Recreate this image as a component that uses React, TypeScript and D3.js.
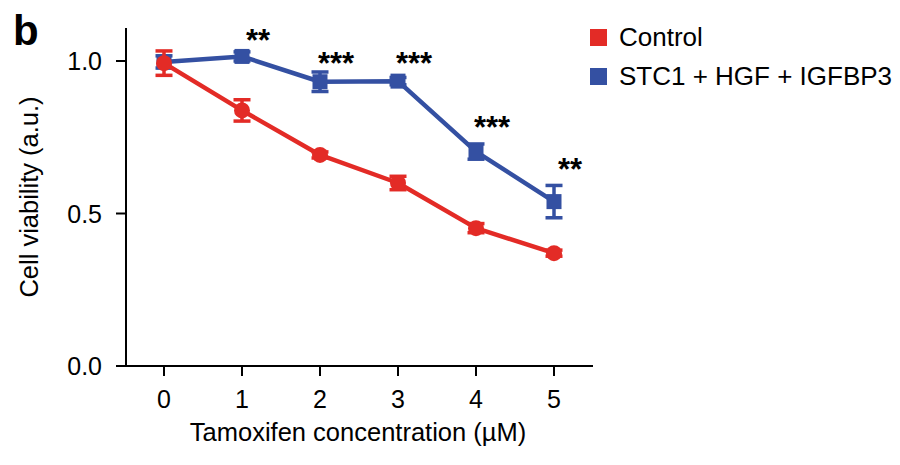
import React, { useEffect, useRef } from 'react';
import * as d3 from 'd3';

// tamoxifen concentrations (µM)
const doses = [0, 1, 2, 3, 4, 5];

const controlMean = [0.993, 0.838, 0.692, 0.6, 0.452, 0.37];
const controlErr = [0.04, 0.035, 0.01, 0.022, 0.015, 0.01];

const comboMean = [0.997, 1.015, 0.932, 0.934, 0.703, 0.539];
const comboErr = [0.02, 0.015, 0.032, 0.012, 0.025, 0.053];

// significance marks over the combo series and where they sit (data units, glyph bottom)
const stars = ['', '**', '***', '***', '***', '**'];
const starY = [0, 1.075, 1.001, 1.001, 0.79, 0.652];

const yTicks = [0, 0.5, 1.0];
const legendLabels = ['Control', 'STC1 + HGF + IGFBP3'];

const RED = '#e32b26';
const BLUE = '#3450a2';
const FONT = '"Liberation Sans", Arial, Helvetica, sans-serif';

export default function App() {
    const ref = useRef<SVGSVGElement>(null);

    useEffect(() => {
        const svg = d3.select(ref.current);
        svg.selectAll('*').remove();

        const x = d3.scaleLinear().domain([0, 5]).range([164, 554]);
        const y = d3.scaleLinear().domain([0, 1]).range([366, 61]);
        const left = 126, right = 593, bottom = 366, top = 28;

        // panel letter
        svg.append('text')
            .attr('x', 13).attr('y', 45)
            .attr('font-family', FONT).attr('font-weight', 'bold').attr('font-size', 42)
            .text('b');

        // axes
        const axes = svg.append('g').attr('stroke', '#000').attr('stroke-width', 2);
        axes.append('line').attr('x1', left).attr('x2', left).attr('y1', top).attr('y2', bottom + 1);
        axes.append('line').attr('x1', left - 1).attr('x2', right).attr('y1', bottom).attr('y2', bottom);
        axes.selectAll('.yt').data(yTicks).enter().append('line')
            .attr('x1', left - 10).attr('x2', left)
            .attr('y1', d => y(d)).attr('y2', d => y(d));
        axes.selectAll('.xt').data(doses).enter().append('line')
            .attr('x1', d => x(d)).attr('x2', d => x(d))
            .attr('y1', bottom).attr('y2', bottom + 10);

        svg.selectAll('.ylab').data(yTicks).enter().append('text')
            .attr('x', left - 24).attr('y', d => y(d)).attr('dy', '0.36em')
            .attr('text-anchor', 'end')
            .attr('font-family', FONT).attr('font-size', 25)
            .text(d => d3.format('.1f')(d));

        svg.selectAll('.xlab').data(doses).enter().append('text')
            .attr('x', d => x(d)).attr('y', 408)
            .attr('text-anchor', 'middle')
            .attr('font-family', FONT).attr('font-size', 25)
            .text(d => d);

        svg.append('text')
            .attr('x', 358).attr('y', 441)
            .attr('text-anchor', 'middle')
            .attr('font-family', FONT).attr('font-size', 25.5)
            .text('Tamoxifen concentration (\u00b5M)');

        svg.append('text')
            .attr('transform', 'translate(38,197) rotate(-90)')
            .attr('text-anchor', 'middle')
            .attr('font-family', FONT).attr('font-size', 25.5)
            .text('Cell viability (a.u.)');

        const line = d3.line<number>().x((_, i) => x(doses[i])).y(d => y(d));

        const drawSeries = (mean: number[], err: number[], color: string, square: boolean) => {
            const g = svg.append('g');
            g.append('path').datum(mean)
                .attr('d', line)
                .attr('fill', 'none').attr('stroke', color).attr('stroke-width', 4.5)
                .attr('stroke-linejoin', 'round');

            const eb = g.append('g').attr('stroke', color).attr('stroke-width', 3.5);
            mean.forEach((m, i) => {
                const cx = x(doses[i]);
                eb.append('line').attr('x1', cx).attr('x2', cx).attr('y1', y(m - err[i])).attr('y2', y(m + err[i]));
                eb.append('line').attr('x1', cx - 8.5).attr('x2', cx + 8.5).attr('y1', y(m - err[i])).attr('y2', y(m - err[i]));
                eb.append('line').attr('x1', cx - 8.5).attr('x2', cx + 8.5).attr('y1', y(m + err[i])).attr('y2', y(m + err[i]));
            });

            if (square) {
                g.selectAll('.m').data(mean).enter().append('rect')
                    .attr('x', (_, i) => x(doses[i]) - 7.5).attr('y', d => y(d) - 7.5)
                    .attr('width', 15).attr('height', 15)
                    .attr('fill', color);
            } else {
                g.selectAll('.m').data(mean).enter().append('circle')
                    .attr('cx', (_, i) => x(doses[i])).attr('cy', d => y(d))
                    .attr('r', 8)
                    .attr('fill', color);
            }
        };

        drawSeries(comboMean, comboErr, BLUE, true);
        drawSeries(controlMean, controlErr, RED, false);

        // significance stars
        svg.selectAll('.star').data(stars).enter().append('text')
            .attr('x', (_, i) => x(doses[i]) + 16).attr('y', (_, i) => y(starY[i]) + 13)
            .attr('text-anchor', 'middle')
            .attr('font-family', FONT).attr('font-size', 31).attr('font-weight', 'bold')
            .text(d => d);

        // legend
        const legend = svg.append('g');
        [RED, BLUE].forEach((c, i) => {
            legend.append('rect')
                .attr('x', 590).attr('y', 29 + i * 39)
                .attr('width', 17).attr('height', 17)
                .attr('fill', c);
            legend.append('text')
                .attr('x', 619).attr('y', 46 + i * 39)
                .attr('font-family', FONT).attr('font-size', 26)
                .text(legendLabels[i]);
        });
    }, []);

    return (
        <svg ref={ref} width={900} height={465}
            style={{ position: 'absolute', left: 0, top: 0, background: '#fff' }} />
    );
}
